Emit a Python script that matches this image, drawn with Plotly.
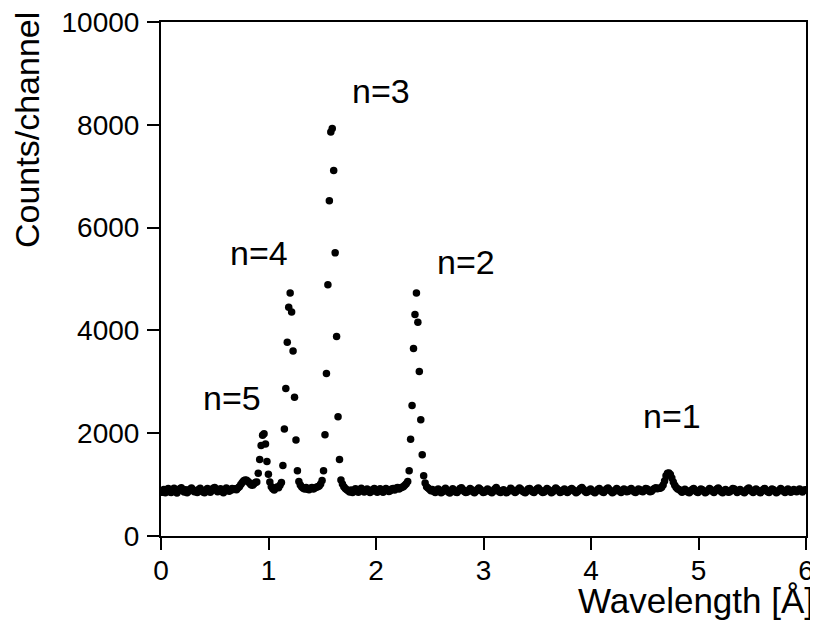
import numpy as np
import plotly.graph_objects as go

# ---- data -------------------------------------------------------------
channel_width = 0.0135  # Angstrom per channel

counts = [
    # 0-49 baseline
    870, 850, 905, 840, 880, 925, 860, 845, 895, 930,
    875, 835, 885, 920, 940, 880, 855, 900, 840, 870,
    910, 935, 895, 860, 885, 845, 905, 930, 880, 855,
    840, 895, 925, 870, 850, 885, 930, 945, 900, 860,
    880, 920, 865, 840, 895, 935, 905, 870, 890, 925,
    # 50-65 n=6 bump
    905, 920, 900, 935, 960, 1000, 1040, 1075, 1090, 1085,
    1060, 1030, 995, 985, 1010, 1040,
    # 66-76 n=5
    1050, 1220, 1490, 1760, 1960, 1990, 1790, 1450, 1200, 1050, 960,
    # 77-83 valley
    920, 895, 935, 955, 940, 985, 1040,
    # 84-94 n=4
    1370, 2080, 2870, 3770, 4450, 4730, 4360, 3600, 2700, 1870, 1270,
    # 95-111 valley
    1060, 990, 955, 930, 915, 945, 910, 900, 930, 945,
    915, 935, 950, 960, 975, 1010, 1080,
    # 112-124 n=3
    1270, 1970, 3160, 4890, 6520, 7860, 7930, 7110, 5510, 3880, 2320, 1490, 1090,
    # 125-169 valley
    1010, 960, 925, 900, 880, 855, 895, 845, 885, 920,
    870, 850, 900, 930, 885, 855, 875, 915, 880, 845,
    865, 905, 925, 880, 850, 890, 920, 875, 850, 890,
    925, 900, 865, 880, 915, 925, 895, 930, 945, 915,
    935, 950, 960, 985, 1015,
    # 170-183 n=2
    1060, 1270, 1880, 2540, 3650, 4310, 4730, 4160, 3200, 2260, 1580, 1170, 1030, 960,
    # 184-343 baseline
    935, 910, 880, 905, 865, 845, 890, 915, 875, 840, 860, 900, 930, 885, 855, 835, 880, 920, 890, 855,
    845, 880, 925, 940, 905, 865, 845, 855, 890, 925, 900, 860, 840, 870, 905, 935, 910, 875, 845, 855,
    880, 915, 890, 860, 840, 870, 915, 945, 900, 860, 845, 880, 900, 870, 840, 860, 890, 930, 900, 870,
    845, 870, 905, 935, 910, 875, 855, 840, 870, 915, 925, 890, 860, 845, 880, 915, 935, 900, 870, 845,
    855, 890, 925, 900, 870, 840, 860, 900, 935, 910, 880, 845, 860, 890, 915, 880, 845, 870, 905, 925,
    900, 870, 840, 860, 890, 925, 945, 910, 870, 845, 860, 890, 915, 880, 860, 840, 870, 905, 925, 890,
    860, 845, 880, 915, 935, 900, 870, 840, 860, 890, 925, 900, 870, 845, 880, 915, 890, 860, 870, 905,
    925, 890, 860, 845, 880, 915, 900, 870, 860, 890, 925, 915, 880, 860, 870, 905, 925, 940, 920, 930,
    # 344-356 n=1
    930, 950, 990, 1070, 1170, 1220, 1225, 1195, 1130, 1050, 985, 945, 915,
    # 357-444 baseline
    905, 880, 850, 875, 910, 885, 855, 840, 870, 905, 925, 890, 860, 845, 880, 915, 900, 870, 840, 860,
    890, 925, 900, 870, 845, 880, 915, 935, 900, 860, 840, 870, 905, 880, 850, 860, 890, 925, 915, 880,
    845, 870, 905, 880, 860, 840, 870, 915, 935, 900, 870, 845, 880, 915, 890, 860, 840, 870, 905, 925,
    890, 860, 845, 880, 915, 900, 870, 840, 860, 890, 925, 900, 870, 845, 880, 915, 880, 850, 870, 905,
    880, 860, 890, 915, 880, 855, 890, 900,
]

peak_labels = ["n=1", "n=2", "n=3", "n=4", "n=5"]
label_x = [4.75, 2.84, 2.05, 0.91, 0.66]
label_y = [2330, 5330, 8660, 5500, 2680]

x_ticks = [0, 1, 2, 3, 4, 5, 6]
y_ticks = [0, 2000, 4000, 6000, 8000, 10000]

wavelength = np.arange(len(counts)) * channel_width

# ---- figure -----------------------------------------------------------
FONT = "Liberation Sans, Arial, sans-serif"

fig = go.Figure()
fig.add_trace(go.Scatter(
    x=wavelength, y=counts, mode="markers",
    marker=dict(size=7.5, color="black", line=dict(width=0)),
    showlegend=False, hoverinfo="skip",
))

for txt, xx, yy in zip(peak_labels, label_x, label_y):
    fig.add_annotation(x=xx, y=yy, text=txt, showarrow=False,
                       xanchor="center", yanchor="middle",
                       font=dict(family=FONT, size=34, color="black"))

fig.add_annotation(xref="paper", yref="paper", x=1, y=0, xanchor="right",
                   yanchor="middle", xshift=10, yshift=-64,
                   text="Wavelength [Å]", showarrow=False,
                   font=dict(family=FONT, size=35, color="black"))
fig.add_annotation(xref="paper", yref="paper", x=0, y=1, xanchor="center",
                   yanchor="top", xshift=-134, yshift=12, textangle=-90,
                   text="Counts/channel", showarrow=False,
                   font=dict(family=FONT, size=34, color="black"))

axis_common = dict(showgrid=False, zeroline=False, showline=True,
                   linecolor="black", linewidth=2, mirror=True,
                   ticks="outside", ticklen=12, tickwidth=2, tickcolor="black",
                   automargin=False, ticklabeloverflow="allow",
                   tickfont=dict(family=FONT, size=28, color="black"))

fig.update_xaxes(range=[0, 6], tickvals=x_ticks, ticklabelstandoff=-4,
                 ticktext=[str(v) for v in x_ticks], **axis_common)
fig.update_yaxes(range=[0, 10000], tickvals=y_ticks, ticklabelstandoff=2,
                 ticktext=[str(v) for v in y_ticks], **axis_common)

# page body has an 8 px default margin, so the figure is 8 px smaller
fig.update_layout(
    width=810, height=618, autosize=False,
    margin=dict(l=153, r=12, t=14, b=90, pad=0),
    plot_bgcolor="white", paper_bgcolor="white",
    font=dict(family=FONT, color="black"),
)

fig.write_html("out.html")
